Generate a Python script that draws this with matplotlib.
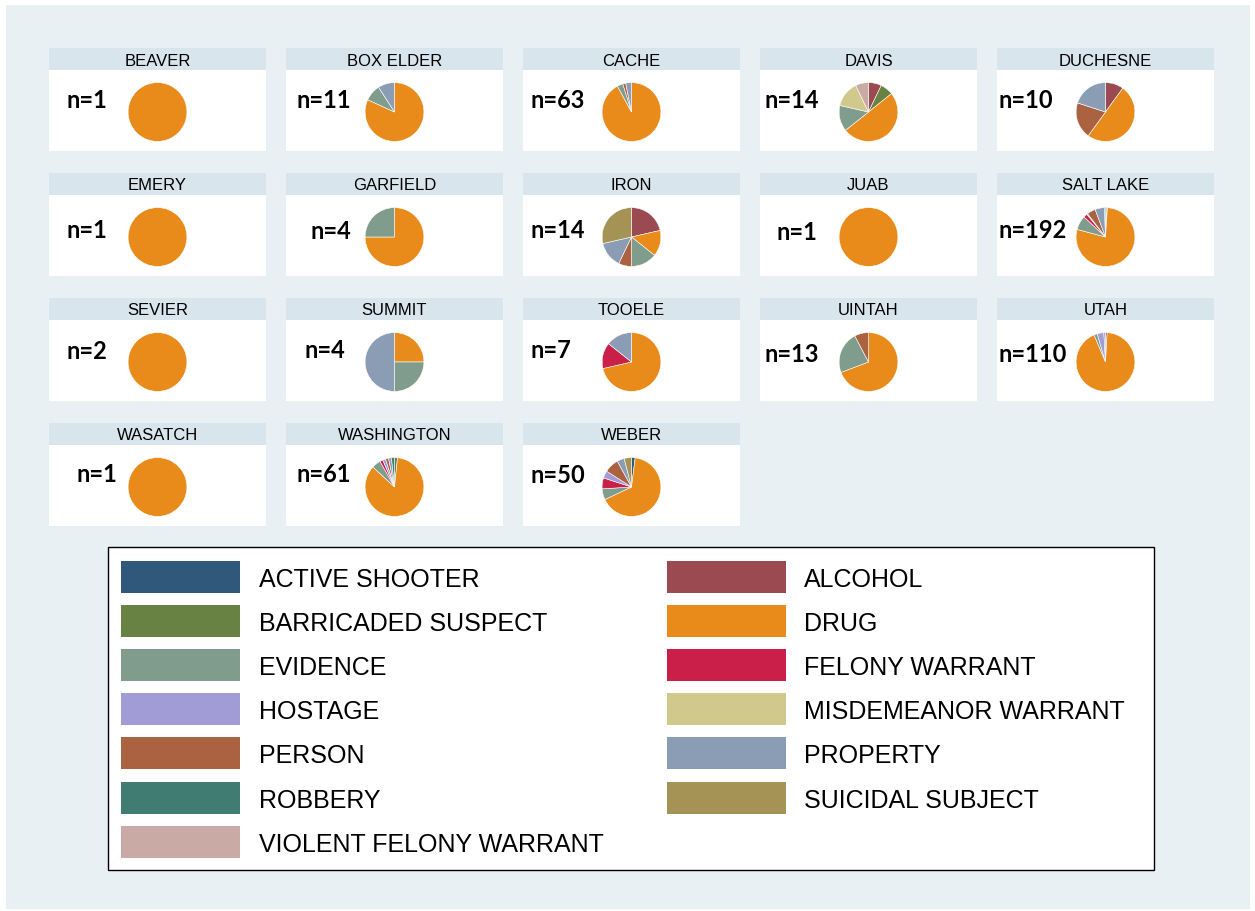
import matplotlib
matplotlib.use('Agg')
import matplotlib.pyplot as plt
from matplotlib.patches import Rectangle

W, H = 1255, 912

categories = ['ACTIVE SHOOTER', 'ALCOHOL', 'BARRICADED SUSPECT', 'DRUG', 'EVIDENCE',
              'FELONY WARRANT', 'HOSTAGE', 'MISDEMEANOR WARRANT', 'PERSON', 'PROPERTY',
              'ROBBERY', 'SUICIDAL SUBJECT', 'VIOLENT FELONY WARRANT']
colors = ['#2f587b', '#9b4a51', '#678243', '#e88b1a', '#7f9c8c', '#c91f48', '#a19bd6',
          '#d1c98c', '#aa6240', '#8a9db5', '#407c72', '#a59356', '#c9aaa4']

counties = ['BEAVER', 'BOX ELDER', 'CACHE', 'DAVIS', 'DUCHESNE',
            'EMERY', 'GARFIELD', 'IRON', 'JUAB', 'SALT LAKE',
            'SEVIER', 'SUMMIT', 'TOOELE', 'UINTAH', 'UTAH',
            'WASATCH', 'WASHINGTON', 'WEBER']

# counts per category, same order as categories
beaver     = [0, 0, 0, 1, 0, 0, 0, 0, 0, 0, 0, 0, 0]
box_elder  = [0, 0, 0, 9, 1, 0, 0, 0, 0, 1, 0, 0, 0]
cache      = [0, 0, 0, 58, 2, 0, 0, 0, 1, 2, 0, 0, 0]
davis      = [0, 1, 1, 7, 2, 0, 0, 2, 0, 0, 0, 0, 1]
duchesne   = [0, 1, 0, 5, 0, 0, 0, 0, 2, 2, 0, 0, 0]
emery      = [0, 0, 0, 1, 0, 0, 0, 0, 0, 0, 0, 0, 0]
garfield   = [0, 0, 0, 3, 1, 0, 0, 0, 0, 0, 0, 0, 0]
iron       = [0, 3, 0, 2, 2, 0, 0, 0, 1, 2, 0, 4, 0]
juab       = [0, 0, 0, 1, 0, 0, 0, 0, 0, 0, 0, 0, 0]
salt_lake  = [0, 1, 1, 150, 15, 4, 1, 0, 9, 10, 1, 0, 0]
sevier     = [0, 0, 0, 2, 0, 0, 0, 0, 0, 0, 0, 0, 0]
summit     = [0, 0, 0, 1, 1, 0, 0, 0, 0, 2, 0, 0, 0]
tooele     = [0, 0, 0, 5, 0, 1, 0, 0, 0, 1, 0, 0, 0]
uintah     = [0, 0, 0, 9, 3, 0, 0, 0, 1, 0, 0, 0, 0]
utah       = [0, 1, 0, 102, 2, 0, 4, 0, 0, 1, 0, 0, 0]
wasatch    = [0, 0, 0, 1, 0, 0, 0, 0, 0, 0, 0, 0, 0]
washington = [0, 0, 1, 52, 3, 1, 1, 0, 1, 1, 1, 0, 0]
weber      = [1, 0, 0, 33, 3, 3, 2, 0, 4, 2, 0, 2, 0]
county_counts = [beaver, box_elder, cache, davis, duchesne, emery, garfield, iron, juab,
                 salt_lake, sevier, summit, tooele, uintah, utah, wasatch, washington, weber]

# where the "n=" label sits (left x, center y) in pixels, per panel
label_pos = [(66, 101), (296, 101), (530, 101), (764, 101), (998, 101),
             (66, 231), (310, 232), (530, 231), (777, 233), (998, 231),
             (66, 352), (305, 351), (530, 351), (764, 355), (998, 355),
             (77, 475), (296, 475), (530, 476)]

fig = plt.figure(figsize=(W / 100, H / 100), dpi=100)
fig.patch.set_facecolor('white')


def px_axes(x, y, w, h):
    # pixel box (top-left origin) -> figure axes
    return fig.add_axes([x / W, 1 - (y + h) / H, w / W, h / H])


bg = fig.add_axes([0, 0, 1, 1])
bg.set_xlim(0, W)
bg.set_ylim(H, 0)
bg.axis('off')
bg.add_patch(Rectangle((6, 6), 1244, 904, facecolor='#e9f0f3', edgecolor='none'))

col_x = [49, 286, 523, 760, 997]
row_y = [49, 174, 299, 424]
pw, head_h, body_h = 217, 22, 81
r = 30

for i, name in enumerate(counties):
    x0 = col_x[i % 5]
    y0 = row_y[i // 5]
    bg.add_patch(Rectangle((x0, y0), pw, head_h, facecolor='#d9e5ec', edgecolor='none'))
    bg.add_patch(Rectangle((x0, y0 + head_h), pw, body_h, facecolor='white', edgecolor='none'))
    bg.text(x0 + pw / 2, y0 + head_h / 2 + 1, name, ha='center', va='center',
            fontsize=12, family='Liberation Sans', color='black')
    lx, ly = label_pos[i]
    bg.text(lx, ly, 'n=%d' % sum(county_counts[i]), ha='left', va='center',
            fontsize=17, fontweight='bold', family='Lato', color='black')

    cx = x0 + pw / 2
    cy = y0 + 64
    ax = px_axes(cx - r, cy - r, 2 * r, 2 * r)
    vals = county_counts[i]
    idx = [k for k in range(len(vals)) if vals[k] > 0]
    ax.pie([vals[k] for k in idx], colors=[colors[k] for k in idx], startangle=90,
           counterclock=False, radius=1,
           wedgeprops=dict(edgecolor='white', linewidth=0.4))
    ax.set_xlim(-1.02, 1.02)
    ax.set_ylim(-1.02, 1.02)
    ax.axis('off')

# legend box
bg.add_patch(Rectangle((108, 548), 1046, 323, facecolor='white', edgecolor='black', linewidth=1))
leg_rows = [578, 622, 666, 710, 754, 799, 843]
for k, cat in enumerate(categories):
    col = k % 2
    row = k // 2
    sx = 121 if col == 0 else 667
    tx = 259 if col == 0 else 804
    yy = leg_rows[row]
    bg.add_patch(Rectangle((sx, yy - 16), 119, 32, facecolor=colors[k], edgecolor='none'))
    bg.text(tx, yy + 2, cat, ha='left', va='center', fontsize=18,
            family='Liberation Sans', color='black')

fig.savefig('out.png', dpi=100, facecolor=fig.get_facecolor())
